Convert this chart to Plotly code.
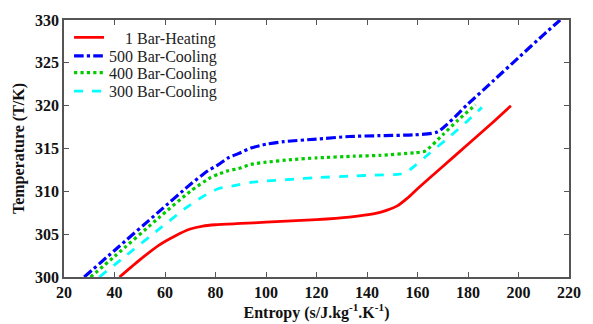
import plotly.graph_objects as go

# 1 Bar - Heating
x_heat = [42, 50, 57.5, 64, 70, 75, 80, 90, 100, 120, 133, 143, 148, 152, 156, 160, 170, 180, 190, 197]
y_heat = [300, 302.0, 303.7, 304.8, 305.6, 305.95, 306.1, 306.25, 306.4, 306.7, 307.0, 307.4, 307.8, 308.3, 309.2, 310.3, 312.9, 315.5, 318.1, 320.0]

# 500 Bar - Cooling
x_500 = [28, 40, 57.5, 70, 77, 81, 85, 89, 94, 100, 107, 120, 133, 145, 159, 168, 180, 190, 200, 210, 216.5]
y_500 = [300, 303.1, 307.6, 310.8, 312.4, 313.1, 313.9, 314.4, 315.05, 315.5, 315.8, 316.1, 316.4, 316.5, 316.6, 316.95, 320.2, 322.9, 325.6, 328.3, 330]

# 400 Bar - Cooling
x_400 = [30.5, 40, 57.5, 70, 78, 81, 85, 89, 94, 100, 110, 120, 135, 145, 159, 163, 170, 176, 183]
y_400 = [300, 302.4, 306.9, 310.0, 311.6, 312.0, 312.4, 312.65, 313.15, 313.4, 313.7, 313.9, 314.1, 314.2, 314.5, 314.7, 316.6, 318.3, 320.1]

# 300 Bar - Cooling
x_300 = [34, 45, 57.5, 68, 75, 81, 88, 94, 100, 110, 120, 135, 143, 153, 156, 159, 165, 172, 179, 185.5]
y_300 = [300, 302.6, 305.55, 308.0, 309.4, 310.3, 310.7, 311.05, 311.2, 311.4, 311.6, 311.8, 311.9, 312.0, 312.3, 313.0, 314.5, 316.2, 318.0, 319.8]

names = ["\u00a0\u00a0\u00a0\u00a01 Bar-Heating", "500 Bar-Cooling", "400 Bar-Cooling", "300 Bar-Cooling"]

x_ticks = [20, 40, 60, 80, 100, 120, 140, 160, 180, 200, 220]
y_ticks = [300, 305, 310, 315, 320, 325, 330]

FONT = "Liberation Serif"

series = [
    (x_heat, y_heat, "#ff0000", 2.8, "solid"),
    (x_500, y_500, "#0000ff", 3.2, "dashdot"),
    (x_400, y_400, "#00cc00", 3.2, "dot"),
    (x_300, y_300, "#00ffff", 2.8, "dash"),
]
legend_ids = ["legend", "legend2", "legend3", "legend4"]
legend_y = [0.932, 0.860, 0.795, 0.723]

fig = go.Figure()
for (xs, ys, col, w, dash), nm, lid in zip(series, names, legend_ids):
    fig.add_trace(go.Scatter(x=xs, y=ys, mode="lines", name=nm, legend=lid,
                             line=dict(color=col, width=w, dash=dash, shape="spline", smoothing=0.6)))

axis_common = dict(
    showline=True, linecolor="#555555", linewidth=1.5, mirror="ticks",
    ticks="inside", ticklen=5, tickwidth=1.2, tickcolor="#555555",
    showgrid=False, zeroline=False,
    tickfont=dict(family=FONT, size=16, color="#111111"),
)

legend_layout = {}
for lid, ly in zip(legend_ids, legend_y):
    legend_layout[lid] = dict(x=0.01, y=ly, xanchor="left", yanchor="middle",
                              bgcolor="rgba(0,0,0,0)", borderwidth=0,
                              font=dict(family=FONT, size=16, color="#222222"),
                              itemwidth=30)

fig.update_layout(
    width=593, height=324,
    margin=dict(l=64, r=17, t=14, b=47),
    paper_bgcolor="white", plot_bgcolor="white",
    font=dict(family=FONT, color="#111111"),
    xaxis=dict(range=[20, 220], tickvals=x_ticks,
               ticktext=[f"<b>{v}</b>" for v in x_ticks],
               title=dict(text="<b>Entropy (s/J.kg<sup>-1</sup>.K<sup>-1</sup>)</b>",
                          font=dict(family=FONT, size=16), standoff=0),
               **axis_common),
    yaxis=dict(range=[300, 330], tickvals=y_ticks,
               ticktext=[f"<b>{v}</b>" for v in y_ticks],
               title=dict(text="<b>Temperature (T/K)</b>",
                          font=dict(family=FONT, size=16), standoff=6),
               **axis_common),
    showlegend=True,
    **legend_layout,
)

fig.write_html("out.html")
